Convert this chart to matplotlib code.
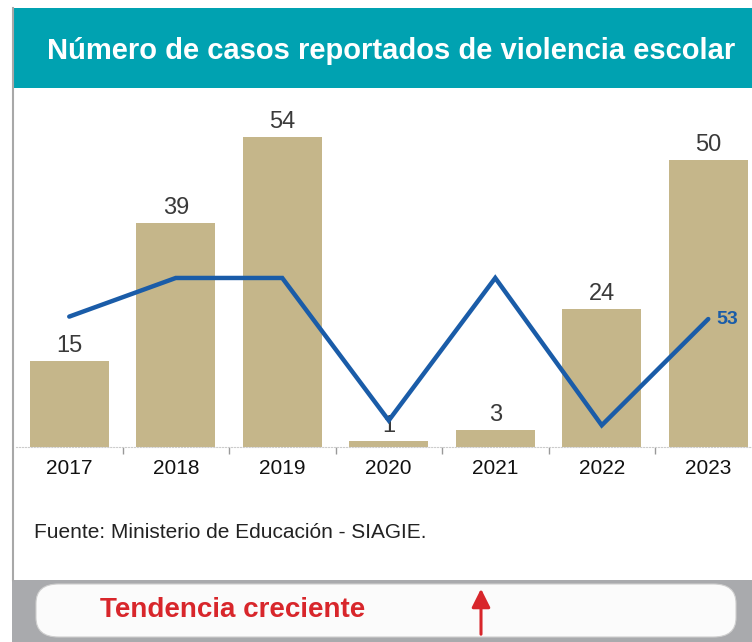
import matplotlib.pyplot as plt
from matplotlib.patches import Rectangle, FancyBboxPatch, FancyArrowPatch
from matplotlib.lines import Line2D

years = ['2017', '2018', '2019', '2020', '2021', '2022', '2023']
casos = [15, 39, 54, 1, 3, 24, 50]
# trend line (second scale, only last value is labelled)
tendencia = [54, 70, 70, 11, 70, 9, 53]

W, H = 752, 642
def fx(px):
    return px / W
def fy(py):
    return 1 - py / H

fig = plt.figure(figsize=(W / 100, H / 100), dpi=100)
fig.patch.set_facecolor('white')

# header band
fig.patches.append(Rectangle((fx(12), fy(88)), 1, 80 / H, transform=fig.transFigure,
                             facecolor='#00a2b1', edgecolor='none', zorder=0))
# left border
fig.lines.append(Line2D([fx(13), fx(13)], [fy(8), fy(580)], transform=fig.transFigure,
                        color='#a8a8a8', lw=1.5))
# bottom grey strip
fig.patches.append(Rectangle((fx(12), 0), 1, 62 / H, transform=fig.transFigure,
                             facecolor='#a9aaad', edgecolor='none', zorder=0))
fig.patches.append(FancyBboxPatch((fx(36), fy(637)), fx(700), 53 / H,
                                  boxstyle='round,pad=0,rounding_size=0.03',
                                  transform=fig.transFigure, facecolor='#fbfbfb',
                                  edgecolor='#cfcfcf', lw=0.8, zorder=1))

fig.text(fx(391), fy(51), 'Número de casos reportados de violencia escolar',
         color='white', fontsize=21, fontweight='bold', family='Liberation Sans',
         ha='center', va='center')

# main chart
ax = fig.add_axes([fx(16), fy(447), 745.5 / W, 347 / H])
x = range(len(years))
ax.bar(x, casos, width=0.74, color='#c5b68a', zorder=2)
ax.set_xlim(-0.5, 6.5)
ax.set_ylim(0, 60.45)
for xi, v in zip(x, casos):
    ax.annotate(str(v), (xi, v), xytext=(0, 3), textcoords='offset points',
                ha='center', va='bottom', fontsize=17, color='#3a3a3a',
                family='Liberation Sans', zorder=3)

ax.set_xticks(list(x))
ax.set_xticklabels(years, fontsize=15, family='Liberation Sans', color='#111111')
ax.tick_params(axis='x', which='major', length=0, pad=9)
ax.set_xticks([i + 0.5 for i in range(6)], minor=True)
ax.tick_params(axis='x', which='minor', length=5, color='#999999', width=1)
ax.set_yticks([])
for s in ['top', 'right', 'left']:
    ax.spines[s].set_visible(False)
ax.spines['bottom'].set_color('#cccccc')
ax.spines['bottom'].set_linestyle(':')

ax2 = ax.twinx()
ax2.set_ylim(0, 143.7)
ax2.plot(x, tendencia, color='#1a5ca8', lw=3.2, solid_capstyle='round',
         solid_joinstyle='miter', zorder=4)
ax2.annotate(str(tendencia[-1]), (6, tendencia[-1]), xytext=(6, 0),
             textcoords='offset points', ha='left', va='center', fontsize=14,
             fontweight='bold', color='#1a5ca8', family='Liberation Sans')
ax2.set_yticks([])
for s in ax2.spines.values():
    s.set_visible(False)

fig.text(fx(34), fy(533), 'Fuente: Ministerio de Educación - SIAGIE.', fontsize=15,
         family='Liberation Sans', color='#222222', ha='left', va='center')

fig.text(fx(100), fy(610), 'Tendencia creciente', fontsize=20, fontweight='bold',
         family='Liberation Sans', color='#d8262b', ha='left', va='center', zorder=3)
fig.patches.append(FancyArrowPatch((fx(481), fy(637)), (fx(481), fy(586)),
                                   transform=fig.transFigure,
                                   arrowstyle='-|>,head_length=0.7,head_width=0.35',
                                   mutation_scale=16, color='#d8262b', lw=2.2, zorder=3))

fig.savefig('out.png', dpi=100)
